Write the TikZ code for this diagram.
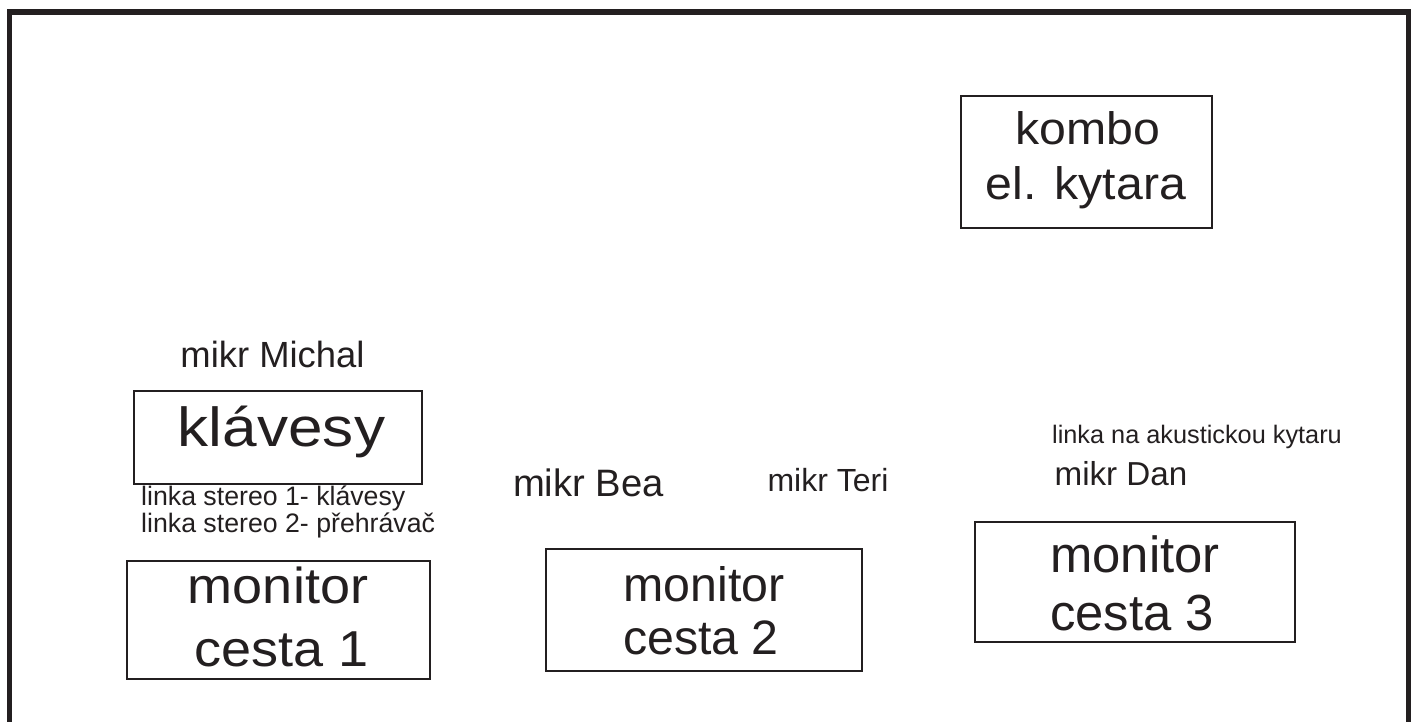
\documentclass[tikz,border=0pt]{standalone}
\usepackage{fontspec}
\setmainfont{Liberation Sans}
\definecolor{ink}{HTML}{231F20}
\newcommand{\fs}[1]{\fontsize{#1}{#1}\selectfont}
\begin{document}
\begin{tikzpicture}[x=1pt,y=-1pt,
  box/.style={draw=ink, line width=1.2pt, inner sep=0pt},
  txt/.style={inner sep=0pt, text=ink, anchor=base},
  ltxt/.style={inner sep=0pt, text=ink, anchor=base west}]
\useasboundingbox (0,0) rectangle (1418,722);
% outer frame (open at bottom)
\draw[ink, line width=5.5pt, line join=miter] (9.5,722) -- (9.5,12) -- (1408.5,12) -- (1408.5,722);
% boxes
\node[box, minimum width=251pt, minimum height=132pt] (kombo) at (1086.5,162) {};
\node[box, minimum width=288pt, minimum height=93pt] (klav) at (278,437.5) {};
\node[box, minimum width=303pt, minimum height=118pt] (mon1) at (278.5,620) {};
\node[box, minimum width=316pt, minimum height=122pt] (mon2) at (704,610) {};
\node[box, minimum width=320pt, minimum height=120pt] (mon3) at (1135,582) {};
% texts in boxes
\node[txt, font=\fs{45.5}] (kombo1) at (1087.5,145) {\scalebox{1.06}[1]{kombo}};
\node[txt, font=\fs{45.5}] (kombo2) at (1086,200) {\scalebox{1.06}[1]{el. kytara}};
\node[txt, font=\fs{55}] (klavt) at (281.5,446) {\scalebox{1.13}[1]{klávesy}};
\node[txt, font=\fs{50.5}] (mon1a) at (278,603) {\scalebox{1.07}[1]{monitor}};
\node[txt, font=\fs{50.5}] (mon1b) at (281.5,666) {\scalebox{1.07}[1]{cesta 1}};
\node[txt, font=\fs{48.3}] (mon2a) at (704,601) {monitor};
\node[txt, font=\fs{48.3}] (mon2b) at (701,654) {cesta 2};
\node[txt, font=\fs{50.8}] (mon3a) at (1135,572) {monitor};
\node[txt, font=\fs{50.8}] (mon3b) at (1132,630) {cesta 3};
% free labels
\node[txt, font=\fs{36.4}] (michal) at (272.5,367) {mikr Michal};
\node[ltxt, font=\fs{26.7}] (st1) at (141,505) {linka stereo 1- klávesy};
\node[ltxt, font=\fs{26.7}] (st2) at (141,532) {linka stereo 2- přehrávač};
\node[txt, font=\fs{38.2}] (bea) at (588.5,496) {mikr Bea};
\node[txt, font=\fs{32}] (teri) at (828,491) {mikr Teri};
\node[txt, font=\fs{25.3}] (akust) at (1197,443) {linka na akustickou kytaru};
\node[txt, font=\fs{33.2}] (dan) at (1121,485) {mikr Dan};
\end{tikzpicture}
\end{document}
